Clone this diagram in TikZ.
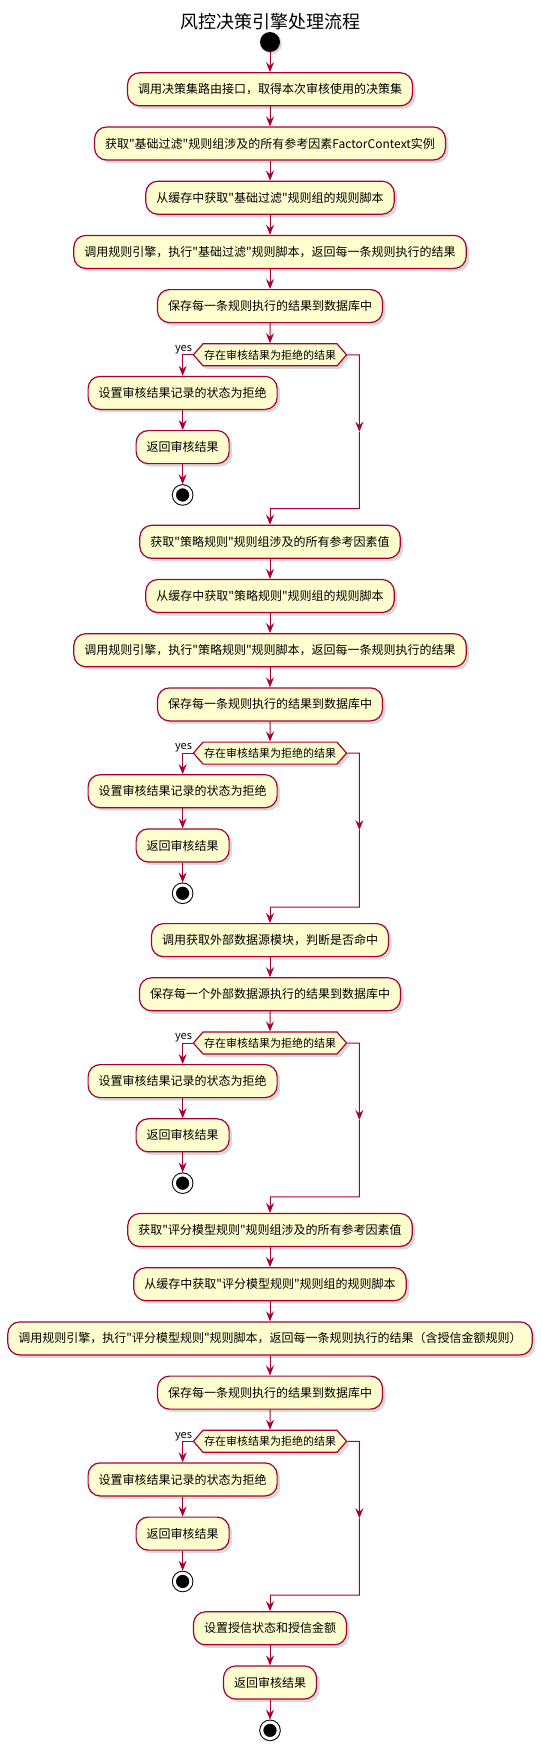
\documentclass[tikz,border=0pt]{standalone}
\usepackage{fontspec}
\setmainfont{Noto Sans CJK SC}[Ligatures=TeXOff]
\usepackage{xcolor}
\usepackage{tikz}
\usetikzlibrary{arrows.meta, positioning, calc, shadows, shapes.symbols}
\definecolor{crimson}{RGB}{168,0,54}
\definecolor{cream}{RGB}{254,254,206}
% yes-branch of a check, and the join of its no-branch
\newcommand{\reject}[1]{%
  \node[lbl, anchor=south east, inner sep=0.5pt] (#1yes) at (#1.west) {yes};
  \node[act, below=21pt of #1.west, xshift=-10pt] (#1set) {设置审核结果记录的状态为拒绝};
  \node[act, below=of #1set] (#1ret) {返回审核结果};
  \node[stopdot, below=of #1ret] (#1stop) {};
  \coordinate (#1out) at ([xshift=12pt]#1.east);
  \coordinate (#1join) at ([yshift=-3pt]#1stop.south -| #1.south);
  \coordinate (#1turn) at (#1out |- #1join);
  \coordinate (#1mid) at ($(#1out)!.5!(#1turn)$);
  \draw[flow] (#1.west) -| (#1set);
  \draw[flow] (#1set) -- (#1ret);
  \draw[flow] (#1ret) -- (#1stop);
  \draw[flow] (#1.east) -- (#1out) -- (#1mid);
  \draw[wire] (#1mid) -- (#1turn) -- (#1join);
}

\begin{document}
\begin{tikzpicture}[x=1pt, y=1pt, node distance=20pt,
      act/.style={draw=crimson, fill=cream, line width=1.2pt, rounded corners=12pt,
                  minimum height=33pt, inner xsep=10.5pt, inner ysep=2pt,
                  font=\fontsize{12}{14}\selectfont,
                  drop shadow={opacity=0.3, shadow xshift=3pt, shadow yshift=-3pt}},
      cond/.style={signal, signal to=west and east, signal pointer angle=98,
                   draw=crimson, fill=cream, line width=1.2pt, minimum height=22pt,
                   inner xsep=1pt, inner ysep=0pt, font=\fontsize{11}{13}\selectfont,
                   drop shadow={opacity=0.3, shadow xshift=3pt, shadow yshift=-3pt}},
      lbl/.style={font=\fontsize{11}{13}\selectfont},
      wire/.style={draw=crimson, line width=1pt},
      flow/.style={wire, -{Stealth[length=10pt, width=8pt, inset=3.5pt]}},
      startdot/.style={circle, fill=black, minimum size=20pt, inner sep=0pt,
                       drop shadow={opacity=0.3, shadow xshift=2pt, shadow yshift=-2pt}},
      stopdot/.style={circle, fill=black, draw=black, double=white, double distance=3pt,
                      line width=1pt, minimum size=16.5pt, inner sep=0pt, outer sep=2.5pt,
                      drop shadow={opacity=0.3, shadow xshift=2pt, shadow yshift=-2pt}}]
    \useasboundingbox (0,0) rectangle (541,-1751);
    \node[font=\fontsize{18}{20}\selectfont] (title) at (270,-21.5) {风控决策引擎处理流程};
    \node[startdot] (start) at (270,-42) {};

    % 基础过滤
    \node[act, below=of start] (b1) {调用决策集路由接口，取得本次审核使用的决策集};
    \node[act, below=of b1] (b2) {获取"基础过滤"规则组涉及的所有参考因素FactorContext实例};
    \node[act, below=of b2] (b3) {从缓存中获取"基础过滤"规则组的规则脚本};
    \node[act, below=of b3] (b4) {调用规则引擎，执行"基础过滤"规则脚本，返回每一条规则执行的结果};
    \node[act, below=of b4] (b5) {保存每一条规则执行的结果到数据库中};
    \node[cond, below=of b5] (q1) {存在审核结果为拒绝的结果};
    \reject{q1}

    % 策略规则
    \node[act, below=16pt of q1join] (b6) {获取"策略规则"规则组涉及的所有参考因素值};
    \node[act, below=of b6] (b7) {从缓存中获取"策略规则"规则组的规则脚本};
    \node[act, below=of b7] (b8) {调用规则引擎，执行"策略规则"规则脚本，返回每一条规则执行的结果};
    \node[act, below=of b8] (b9) {保存每一条规则执行的结果到数据库中};
    \node[cond, below=of b9] (q2) {存在审核结果为拒绝的结果};
    \reject{q2}

    % 外部数据源
    \node[act, below=16pt of q2join] (b10) {调用获取外部数据源模块，判断是否命中};
    \node[act, below=of b10] (b11) {保存每一个外部数据源执行的结果到数据库中};
    \node[cond, below=of b11] (q3) {存在审核结果为拒绝的结果};
    \reject{q3}

    % 评分模型规则
    \node[act, below=16pt of q3join] (b12) {获取"评分模型规则"规则组涉及的所有参考因素值};
    \node[act, below=of b12] (b13) {从缓存中获取"评分模型规则"规则组的规则脚本};
    \node[act, below=of b13] (b14) {调用规则引擎，执行"评分模型规则"规则脚本，返回每一条规则执行的结果（含授信金额规则）};
    \node[act, below=of b14] (b15) {保存每一条规则执行的结果到数据库中};
    \node[cond, below=of b15] (q4) {存在审核结果为拒绝的结果};
    \reject{q4}

    \node[act, below=16pt of q4join] (b16) {设置授信状态和授信金额};
    \node[act, below=of b16] (b17) {返回审核结果};
    \node[stopdot, below=of b17] (finish) {};

    \draw[flow] (start) -- (b1);
    \draw[flow] (b1) -- (b2);
    \draw[flow] (b2) -- (b3);
    \draw[flow] (b3) -- (b4);
    \draw[flow] (b4) -- (b5);
    \draw[flow] (b5) -- (q1);
    \draw[flow] (q1join) -- (b6);
    \draw[flow] (b6) -- (b7);
    \draw[flow] (b7) -- (b8);
    \draw[flow] (b8) -- (b9);
    \draw[flow] (b9) -- (q2);
    \draw[flow] (q2join) -- (b10);
    \draw[flow] (b10) -- (b11);
    \draw[flow] (b11) -- (q3);
    \draw[flow] (q3join) -- (b12);
    \draw[flow] (b12) -- (b13);
    \draw[flow] (b13) -- (b14);
    \draw[flow] (b14) -- (b15);
    \draw[flow] (b15) -- (q4);
    \draw[flow] (q4join) -- (b16);
    \draw[flow] (b16) -- (b17);
    \draw[flow] (b17) -- (finish);
  \end{tikzpicture}
\end{document}
